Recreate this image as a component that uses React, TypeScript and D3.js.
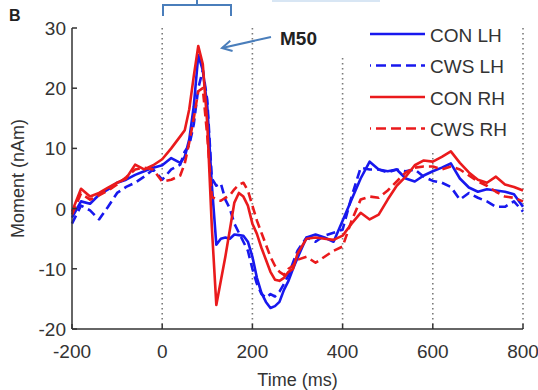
import React from "react";
import * as d3 from "d3";

const TIMES = [-200,-180,-160,-140,-120,-100,-80,-60,-40,-20,0,20,40,
  50,60,70,80,90,100,110,120,130,140,150,160,170,180,190,200,210,220,230,240,250,260,270,280,290,300,
  320,340,360,380,400,420,440,460,480,500,520,540,560,580,600,620,640,660,680,700,720,740,760,780,800];

const CON_LH = [-1.5,1.2,0.8,2.3,3.2,4.3,4.8,5.6,6.2,6.8,7.2,8.4,7.6,
  8.6,11.5,17,25.5,23,17,4,-6,-5,-4.8,-5,-4.3,-4.4,-4.5,-5.5,-8,-11.5,-14,-15.5,-16.5,-16.2,-15.5,-13.5,-12,-10,-8.2,
  -4.8,-4.3,-4.8,-5.5,-2,1.5,5,7.8,6.5,6.2,6.5,5,4.5,5.5,6.2,6.8,7.5,5,3.5,2.8,3.2,3,2.8,2.4,0.3];

const CWS_LH = [-2.5,0.5,-0.3,-1.8,0.3,2.6,3.6,4.3,5.3,6.5,4.8,6.5,7.3,
  9.5,10.5,14,20,23,18,5,3.8,4.2,1.5,0,-2.5,-4,-5.5,-7,-10,-12.5,-14.2,-14.8,-14.2,-14.6,-13.8,-12.5,-11,-9,-7,
  -4.8,-5.5,-4.5,-4,-3.5,2,6.8,6.5,6.5,6,6.5,6.2,6.5,5.3,4.6,4.3,3.6,1.5,2.6,1.8,1.2,0.3,0.3,1.2,-0.5];

const CON_RH = [-0.5,3.3,2,2.6,3.5,4.3,5,7.3,6.5,7.2,8.2,10,12,
  13,16.5,22,27,24,14,-3,-16,-12,-8,-3.5,1,2.6,2,0.5,-2.5,-4.2,-6.5,-8.5,-10.5,-11.8,-12,-11.5,-10.5,-10,-7.5,
  -5,-4.8,-5,-5.2,-4.5,-2.5,-0.7,-1.8,-1,1.5,3.8,5.3,7.2,8,7.8,8.6,9.5,7.6,6,4.8,4.3,5.3,4,3.6,3];

const CWS_RH = [-1,2.5,1.5,2.2,3,4,5.2,6.5,6.8,6.5,4.5,4.8,5.5,
  7.5,11,15,19.5,20,12,2,1.5,1.3,1.8,2.2,3.2,4,4.3,3,0.5,-2,-4,-6,-8,-9.5,-10.5,-11,-10,-9.5,-8.5,
  -8,-9,-8,-7,-6.3,-2,1.5,2,1.8,3,4.5,6,6.8,7,7,6.5,7,6.5,5.5,4.5,3.8,2.8,2,1.8,1.2];

const SERIES_NAMES = ["CON LH", "CWS LH", "CON RH", "CWS RH"];
const X_TICKS = [-200, 0, 200, 400, 600, 800];
const Y_TICKS = [-20, -10, 0, 10, 20, 30];
const GRID_X = [0, 200, 400, 600, 800];

const BLUE = "#1818ee";
const RED = "#ea1a1c";
const ANNOT = "#4a7ebb";
const FONT = "'Liberation Sans', Arial, sans-serif";

export default function App() {
  const x = d3.scaleLinear().domain([-200, 800]).range([72, 523]);
  const y = d3.scaleLinear().domain([-20, 30]).range([329, 28]);
  const [x0, x1] = x.range();
  const [yb, yt] = y.range();

  const series = [
    { name: SERIES_NAMES[0], values: CON_LH, color: BLUE, dash: undefined },
    { name: SERIES_NAMES[1], values: CWS_LH, color: BLUE, dash: "9 5" },
    { name: SERIES_NAMES[2], values: CON_RH, color: RED, dash: undefined },
    { name: SERIES_NAMES[3], values: CWS_RH, color: RED, dash: "9 5" },
  ];

  const lineGen = d3
    .line<number>()
    .x((_, i) => x(TIMES[i]))
    .y((d) => y(d));

  // arrow geometry
  const tip = [222, 48];
  const tail = [271, 37];
  const ang = Math.atan2(tail[1] - tip[1], tail[0] - tip[0]);
  const ah = 11;
  const a1 = [tip[0] + ah * Math.cos(ang + 0.5), tip[1] + ah * Math.sin(ang + 0.5)];
  const a2 = [tip[0] + ah * Math.cos(ang - 0.5), tip[1] + ah * Math.sin(ang - 0.5)];

  const legendY = [34, 65.5, 97, 128.5];

  return (
    <svg
      width={538}
      height={390}
      style={{ position: "absolute", left: 0, top: 0, background: "#fff" }}
      fontFamily={FONT}
    >
      <rect x={0} y={0} width={538} height={390} fill="#fff" />
      {/* grid */}
      {GRID_X.map((g) => (
        <line
          key={g}
          x1={x(g)}
          x2={x(g)}
          y1={yt}
          y2={yb}
          stroke="#7a7a7a"
          strokeWidth={1.6}
          strokeDasharray="1.6 3.4"
        />
      ))}
      {/* data */}
      {series.map((s) => (
        <path
          key={s.name}
          d={lineGen(s.values) || ""}
          fill="none"
          stroke={s.color}
          strokeWidth={2.6}
          strokeDasharray={s.dash}
          strokeLinejoin="round"
        />
      ))}
      {/* annotation box M50 */}
      <rect x={268} y={0} width={82} height={57} fill="#fff" />
      <line x1={272} x2={380} y1={1} y2={1} stroke="#d8e6f4" strokeWidth={2} />
      <text x={280} y={45} fontSize={19} fontWeight="bold" fill="#222">M50</text>
      <line x1={tail[0]} y1={tail[1]} x2={tip[0]} y2={tip[1]} stroke={ANNOT} strokeWidth={2} />
      <path
        d={`M${a1[0]},${a1[1]} L${tip[0]},${tip[1]} L${a2[0]},${a2[1]}`}
        fill="none"
        stroke={ANNOT}
        strokeWidth={2}
      />
      {/* bracket */}
      <path d="M163,16 V5 H231 V16 M197,5 V0" fill="none" stroke={ANNOT} strokeWidth={2} />
      {/* legend */}
      <rect x={362} y={18} width={156} height={132} fill="#fff" />
      {series.map((s, i) => (
        <g key={s.name}>
          <line
            x1={370}
            x2={425}
            y1={legendY[i]}
            y2={legendY[i]}
            stroke={s.color}
            strokeWidth={2.6}
            strokeDasharray={s.dash ? "10 5" : undefined}
            strokeDashoffset={s.dash ? -6 : undefined}
          />
          <text x={430} y={legendY[i] + 7.5} fontSize={19} fill="#333">
            {s.name}
          </text>
        </g>
      ))}
      {/* axes */}
      <line x1={x0} x2={x0} y1={yt} y2={yb} stroke="#333" strokeWidth={1.5} />
      <line x1={x0} x2={x1} y1={yb} y2={yb} stroke="#333" strokeWidth={1.5} />
      {Y_TICKS.map((t) => (
        <g key={t}>
          <line x1={x0} x2={x0 + 5} y1={y(t)} y2={y(t)} stroke="#333" strokeWidth={1.5} />
          <text x={x0 - 6} y={y(t) + 7} fontSize={19} textAnchor="end" fill="#333">
            {t}
          </text>
        </g>
      ))}
      {X_TICKS.map((t) => (
        <g key={t}>
          <line x1={x(t)} x2={x(t)} y1={yb} y2={yb - 5} stroke="#333" strokeWidth={1.5} />
          <text x={x(t)} y={358} fontSize={19} textAnchor="middle" fill="#333">
            {t}
          </text>
        </g>
      ))}
      <text x={(x0 + x1) / 2} y={386} fontSize={18} textAnchor="middle" fill="#333">
        Time (ms)
      </text>
      <text
        transform={`translate(24,${(yt + yb) / 2}) rotate(-90)`}
        fontSize={18}
        textAnchor="middle"
        fill="#333"
      >
        Moment (nAm)
      </text>
      <text x={9} y={21} fontSize={16} fontWeight="bold" fill="#222">B</text>
    </svg>
  );
}
